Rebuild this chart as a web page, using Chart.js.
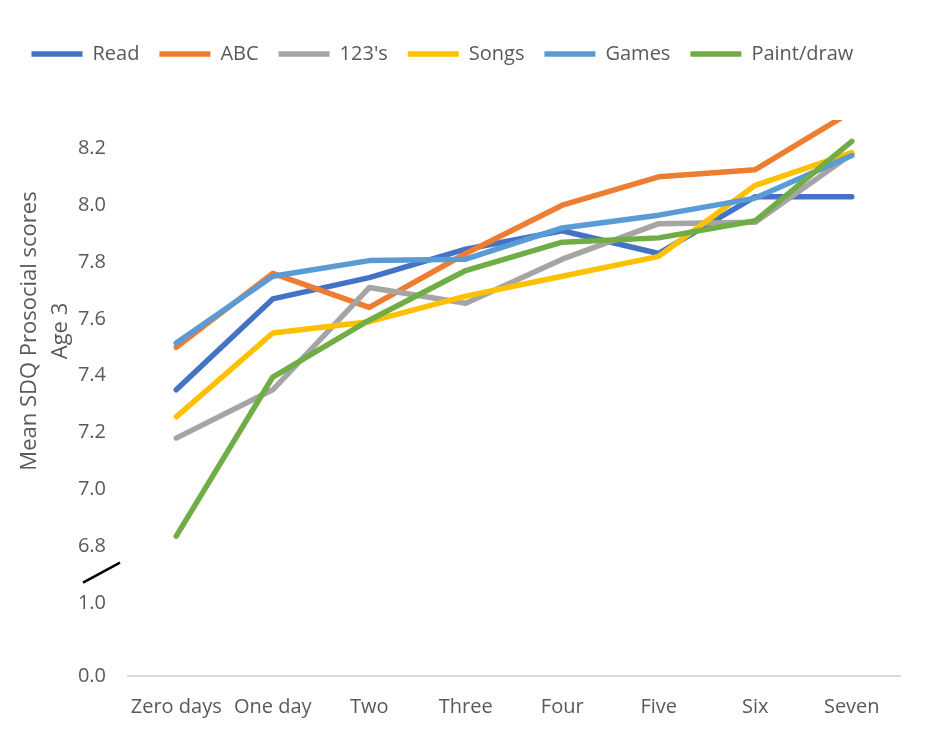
<!DOCTYPE html>
<html>
<head>
<meta charset="utf-8">
<script src="https://cdn.jsdelivr.net/npm/chart.js@4.4.1/dist/chart.umd.min.js"></script>
<style>
  html, body { margin: 0; padding: 0; background: #ffffff; }
  #wrap { width: 950px; height: 740px; position: relative; }
</style>
</head>
<body>
<div id="wrap"><canvas id="chart"></canvas></div>
<script>
// Days per week of each home-learning activity
const categories = ['Zero days', 'One day', 'Two', 'Three', 'Four', 'Five', 'Six', 'Seven'];
const seriesNames = ['Read', 'ABC', "123's", 'Songs', 'Games', 'Paint/draw'];

// Mean SDQ prosocial score at age 3 for each activity
const readScores   = [7.35, 7.67, 7.745, 7.845, 7.91, 7.83, 8.03, 8.03];
const abcScores    = [7.50, 7.76, 7.64, 7.83, 8.00, 8.10, 8.125, 8.33];
const numberScores = [7.18, 7.35, 7.71, 7.655, 7.81, 7.935, 7.94, 8.18];
const songScores   = [7.255, 7.55, 7.59, 7.68, 7.75, 7.82, 8.07, 8.185];
const gameScores   = [7.515, 7.75, 7.805, 7.81, 7.92, 7.965, 8.025, 8.175];
const paintScores  = [6.835, 7.395, 7.595, 7.77, 7.87, 7.885, 7.945, 8.225];

// Tick labels for the two parts of the broken value axis
const upperTicks = [6.8, 7.0, 7.2, 7.4, 7.6, 7.8, 8.0, 8.2];
const lowerTicks = [0.0, 1.0];
const axisTitleLines = ['Mean SDQ Prosocial scores', 'Age 3'];

const seriesValues = [readScores, abcScores, numberScores, songScores, gameScores, paintScores];
const seriesColors = ['#4472C4', '#ED7D31', '#A5A5A5', '#FFC000', '#5B9BD5', '#70AD47'];

const FONT = "'Open Sans', 'DejaVu Sans', sans-serif";
const TEXT = '#595959';
Chart.defaults.font.family = FONT;
Chart.defaults.color = TEXT;

// Extra space between the legend row and the plot
const legendGap = {
  id: 'legendGap',
  beforeLayout(chart) {
    const lg = chart.legend;
    if (lg && !lg._gapPatched) {
      const fit = lg.fit;
      lg.fit = function () { fit.call(this); this.height += 46; };
      lg._gapPatched = true;
    }
  }
};

// Two-line rotated value-axis title
const axisTitle = {
  id: 'axisTitle',
  afterDraw(chart) {
    const c = chart.ctx;
    c.save();
    c.fillStyle = TEXT;
    c.font = "22px " + FONT;
    c.textAlign = 'center';
    c.textBaseline = 'alphabetic';
    const cy = 331;
    const baselines = [36, 67];
    axisTitleLines.forEach((t, i) => {
      c.save();
      c.translate(baselines[i], cy);
      c.rotate(-Math.PI / 2);
      c.fillText(t, 0, 0);
      c.restore();
    });
    c.restore();
  }
};

// Diagonal break mark where the value axis jumps from 1.0 to 6.8
const axisBreak = {
  id: 'axisBreak',
  afterDraw(chart) {
    const c = chart.ctx;
    const left = chart.chartArea.left;
    const joint = chart.scales.y.bottom;
    c.save();
    c.strokeStyle = '#000000';
    c.lineWidth = 2.5;
    c.beginPath();
    c.moveTo(left - 45, joint - 6);
    c.lineTo(left - 8, joint - 26);
    c.stroke();
    c.restore();
  }
};

const datasets = seriesNames.map((name, i) => ({
  label: name,
  data: seriesValues[i],
  borderColor: seriesColors[i],
  backgroundColor: seriesColors[i],
  borderWidth: 5.5,
  borderCapStyle: 'round',
  borderJoinStyle: 'round',
  pointRadius: 0,
  pointHoverRadius: 0,
  tension: 0,
  fill: false,
  clip: 0,
  order: -i,
  yAxisID: 'y'
}));

new Chart(document.getElementById('chart'), {
  type: 'line',
  data: { labels: categories, datasets },
  plugins: [legendGap, axisTitle, axisBreak],
  options: {
    responsive: true,
    maintainAspectRatio: false,
    animation: false,
    events: [],
    layout: { padding: { left: 11.5, right: 50, top: 24, bottom: 0 } },
    plugins: {
      tooltip: { enabled: false },
      legend: {
        position: 'top',
        align: 'start',
        labels: {
          usePointStyle: true,
          pointStyle: 'line',
          pointStyleWidth: 51,
          font: { size: 20 },
          color: TEXT,
          padding: 20,
          sort: (a, b) => a.datasetIndex - b.datasetIndex
        }
      }
    },
    scales: {
      x: {
        type: 'category',
        offset: true,
        grid: { display: false, drawTicks: false },
        border: { display: true, color: '#d9d9d9', width: 2 },
        ticks: { font: { size: 20 }, color: TEXT, padding: 19, maxRotation: 0, autoSkip: false },
        afterFit(s) { s.height = 64; }
      },
      yLow: {
        type: 'linear',
        position: 'left',
        stack: 'value',
        stackWeight: 87.6,
        min: 0,
        max: 1.2,
        grid: { display: false, drawTicks: false },
        border: { display: false },
        ticks: { font: { size: 20 }, color: TEXT, padding: 22, callback: v => v.toFixed(1) },
        afterBuildTicks(s) { s.ticks = lowerTicks.map(v => ({ value: v })); },
        afterFit(s) { s.width = 116.5; }
      },
      y: {
        type: 'linear',
        position: 'left',
        stack: 'value',
        stackWeight: 470,
        min: 6.65,
        max: 8.3,
        grid: { display: false, drawTicks: false },
        border: { display: false },
        ticks: { font: { size: 20 }, color: TEXT, padding: 22, callback: v => v.toFixed(1) },
        afterBuildTicks(s) { s.ticks = upperTicks.map(v => ({ value: v })); },
        afterFit(s) { s.width = 116.5; }
      }
    }
  }
});
</script>
</body>
</html>
